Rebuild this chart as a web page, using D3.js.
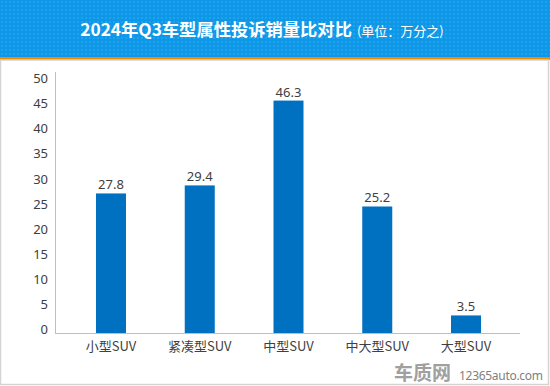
<!DOCTYPE html>
<html>
<head>
<meta charset="utf-8">
<script src="https://cdn.jsdelivr.net/npm/d3@7"></script>
<style>
  body { margin: 0; background: #fff; }
  text { font-family: "Noto Sans CJK SC", "Noto Sans", sans-serif; }
</style>
</head>
<body>
<div id="vis"></div>
<script>
// chart data
const categories = ['小型SUV', '紧凑型SUV', '中型SUV', '中大型SUV', '大型SUV'];
const values = [27.8, 29.4, 46.3, 25.2, 3.5];
const yTicks = [0, 5, 10, 15, 20, 25, 30, 35, 40, 45, 50];
const title = '2024年Q3车型属性投诉销量比对比';
const unit = '(单位：万分之)';

let W = 550, H = 386;

let svg = d3.select('#vis')
  .append('svg')
    .attr('width', W)
    .attr('height', H);

// header pattern
let defs = svg.append('defs');
let pat = defs.append('pattern')
  .attr('id', 'dots')
  .attr('width', 4)
  .attr('height', 4)
  .attr('patternUnits', 'userSpaceOnUse');
pat.append('rect').attr('width', 4).attr('height', 4).attr('fill', '#0d97e6');
pat.append('rect').attr('x', 1).attr('y', 1).attr('width', 2).attr('height', 2).attr('fill', '#1fa3ee');

svg.append('rect')
  .attr('x', 0).attr('y', 0)
  .attr('width', W).attr('height', 57)
  .attr('fill', 'url(#dots)');

svg.append('rect')
  .attr('x', 0).attr('y', 57)
  .attr('width', W).attr('height', 3)
  .attr('fill', '#f28a00');

// outer border of chart area
svg.append('rect')
  .attr('x', 0.5).attr('y', 60)
  .attr('width', W - 2).attr('height', H - 61.5)
  .attr('fill', 'none')
  .attr('stroke', '#d4d4d4')
  .attr('stroke-width', 1.5);

// title
let t = svg.append('text')
  .attr('x', 262)
  .attr('y', 36)
  .attr('text-anchor', 'middle')
  .attr('fill', '#fff');
t.append('tspan')
  .style('font-size', '17.3px')
  .style('font-weight', 'bold')
  .text(title);
t.append('tspan')
  .attr('dx', 5)
  .style('font-size', '13px')
  .text(unit);

// scales
let xScale = d3.scaleBand()
  .domain(categories)
  .range([66.6, 510.4])
  .paddingInner(0.662)
  .paddingOuter(0.331);

let yScale = d3.scaleLinear()
  .domain([0, 50])
  .range([333, 82]);

// y axis
let yAxis = svg.append('g')
  .attr('transform', 'translate(55,0)')
  .call(d3.axisLeft(yScale).tickValues(yTicks).tickSize(0).tickPadding(7));
yAxis.select('.domain').remove();
yAxis.selectAll('text')
  .attr('dy', '0.05em')
  .style('font-size', '13px')
  .style('font-family', '"Noto Sans", sans-serif')
  .attr('fill', '#404040');

svg.append('line')
  .attr('x1', 55.5).attr('x2', 55.5)
  .attr('y1', 72).attr('y2', 333)
  .attr('stroke', '#bfbfbf');

// x axis
let xAxis = svg.append('g')
  .attr('transform', 'translate(0,333)')
  .call(d3.axisBottom(xScale).tickSize(0).tickPadding(9));
xAxis.select('.domain').remove();
xAxis.selectAll('text')
  .style('font-size', '13px')
  .attr('fill', '#404040');

svg.append('line')
  .attr('x1', 55).attr('x2', 520)
  .attr('y1', 333.5).attr('y2', 333.5)
  .attr('stroke', '#bfbfbf');

// bars
svg.append('g')
  .selectAll('rect')
  .data(values)
  .enter()
  .append('rect')
    .attr('x', (d, i) => xScale(categories[i]))
    .attr('y', d => yScale(d))
    .attr('width', xScale.bandwidth())
    .attr('height', d => yScale(0) - yScale(d))
    .attr('fill', '#0070c0');

// value labels
svg.append('g')
  .selectAll('text')
  .data(values)
  .enter()
  .append('text')
    .attr('x', (d, i) => xScale(categories[i]) + xScale.bandwidth() / 2)
    .attr('y', d => yScale(d) - 4)
    .attr('text-anchor', 'middle')
    .style('font-size', '13px')
    .style('font-family', '"Noto Sans", sans-serif')
    .attr('fill', '#404040')
    .text(d => d.toFixed(1));

// watermark
svg.append('text')
  .attr('x', 394)
  .attr('y', 380)
  .style('font-size', '19px')
  .style('font-weight', 'bold')
  .attr('fill', '#a0a0a0')
  .text('车质网');
svg.append('text')
  .attr('x', 459)
  .attr('y', 380)
  .attr('textLength', 84)
  .style('font-size', '12px')
  .style('font-family', '"Noto Sans", sans-serif')
  .attr('fill', '#808080')
  .text('12365auto.com');
</script>
</body>
</html>
